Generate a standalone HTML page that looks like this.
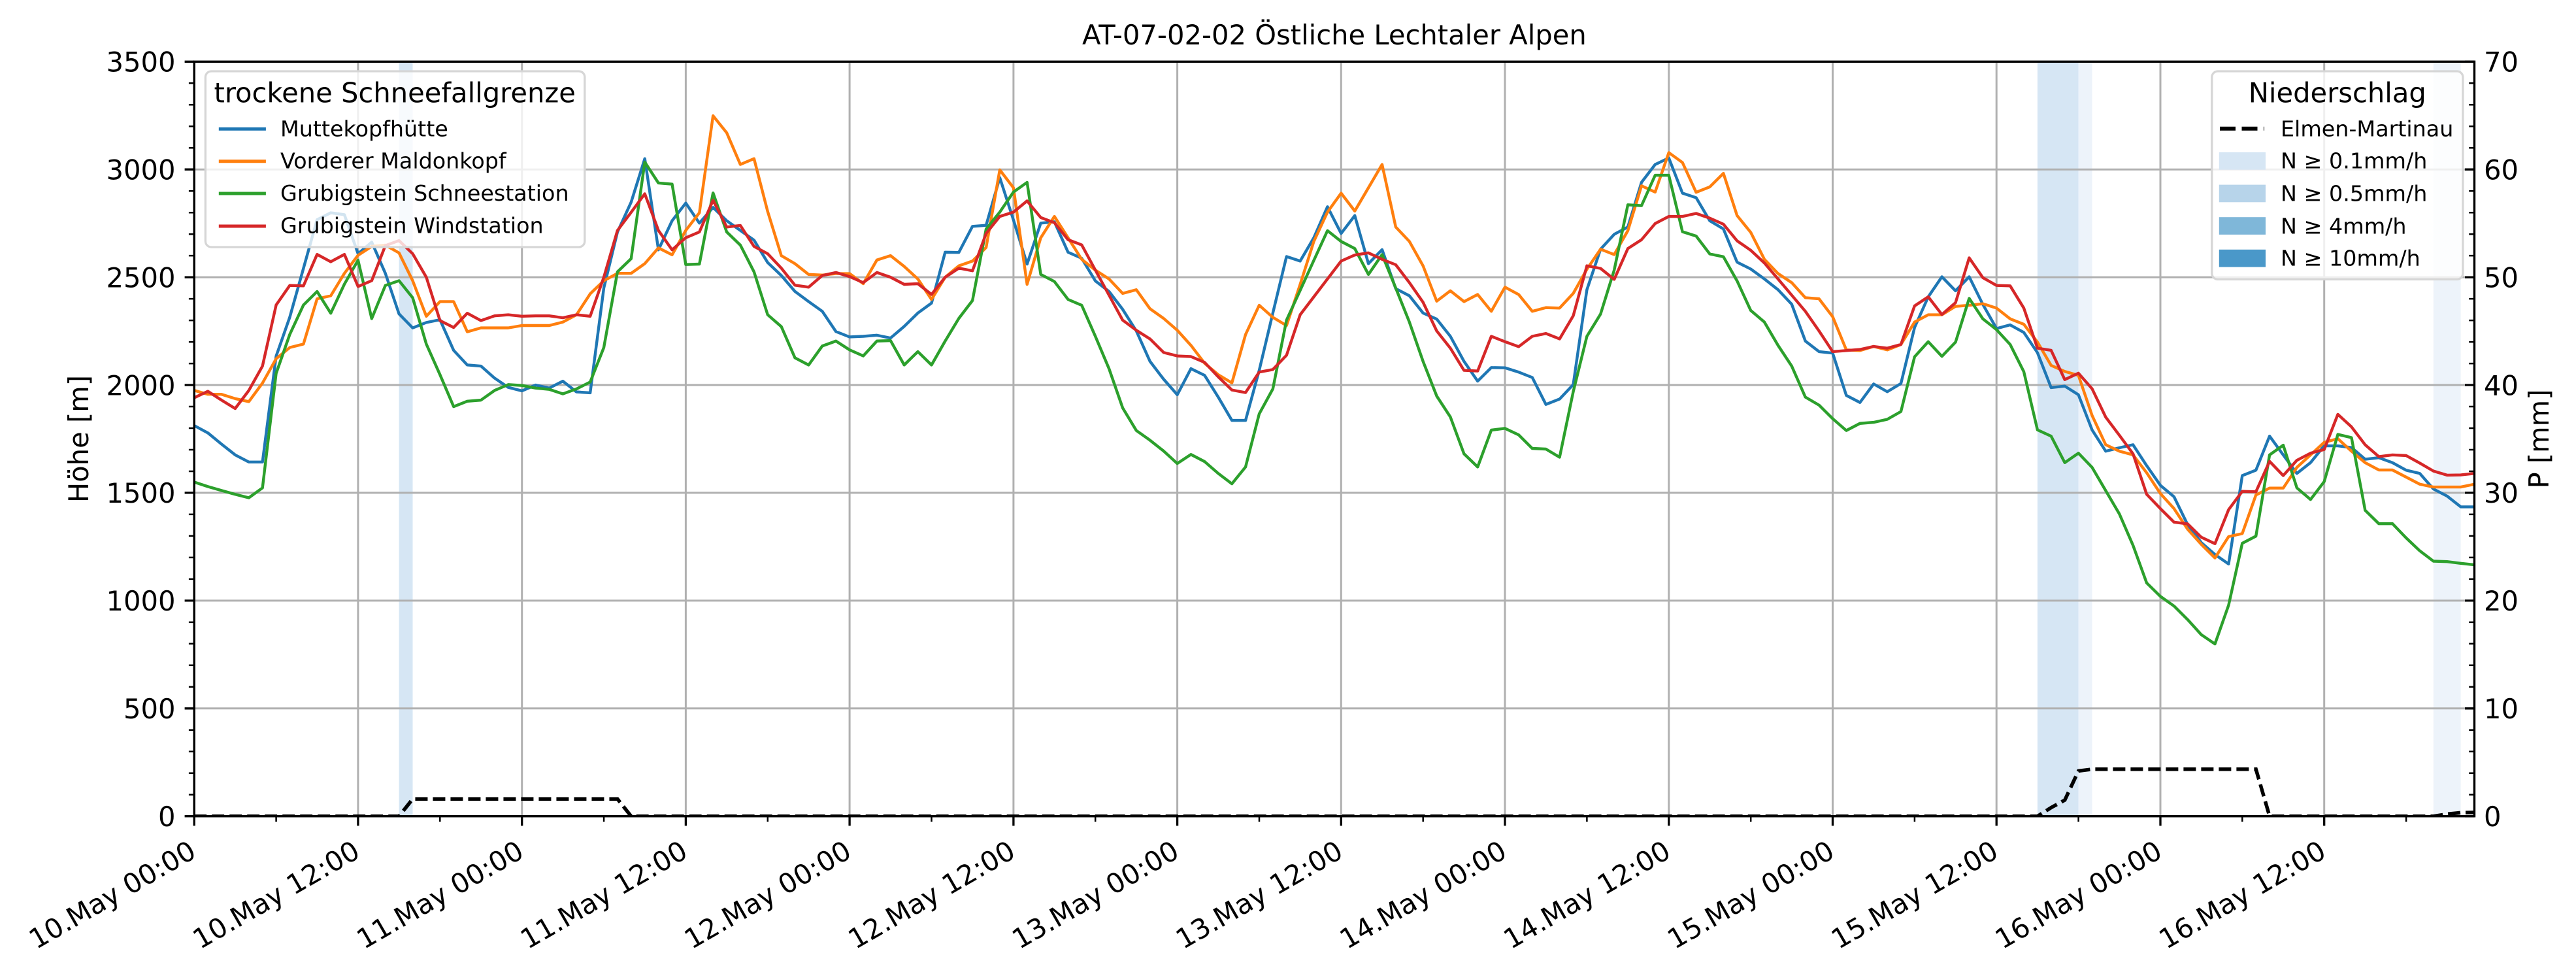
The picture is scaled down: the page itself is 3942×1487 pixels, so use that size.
<!DOCTYPE html>
<html>
<head>
<meta charset="utf-8">
<style>
html,body{margin:0;padding:0;background:#fff;}
svg{display:block;}
text{font-family:"DejaVu Sans","Liberation Sans",sans-serif;fill:#000;}
</style>
</head>
<body>
<svg xmlns="http://www.w3.org/2000/svg" width="3942" height="1487" viewBox="0 0 3942 1487">
<defs>
<clipPath id="pa"><rect x="297.2" y="94.3" width="3489.3" height="1154.4"/></clipPath>
</defs>
<rect x="0" y="0" width="3942" height="1487" fill="#fff"/>

<!-- precipitation bands -->
<g clip-path="url(#pa)">
<rect x="610.6" y="94.3" width="20.9" height="1154.4" fill="#d6e6f4"/>
<rect x="3117.9" y="94.3" width="62.7" height="1154.4" fill="#d6e6f4"/>
<rect x="3180.6" y="94.3" width="20.9" height="1154.4" fill="#edf3fa"/>
<rect x="3723.8" y="94.3" width="41.8" height="1154.4" fill="#edf3fa"/>
</g>

<!-- grid -->
<g stroke="#b0b0b0" stroke-width="3" fill="none">
<path d="M297.2 94.3V1248.7M547.9 94.3V1248.7M798.7 94.3V1248.7M1049.4 94.3V1248.7M1300.1 94.3V1248.7M1550.9 94.3V1248.7M1801.6 94.3V1248.7M2052.3 94.3V1248.7M2303.0 94.3V1248.7M2553.8 94.3V1248.7M2804.5 94.3V1248.7M3055.2 94.3V1248.7M3306.0 94.3V1248.7M3556.7 94.3V1248.7"/>
<path d="M297.2 1083.8H3786.5M297.2 918.9H3786.5M297.2 753.9H3786.5M297.2 589.0H3786.5M297.2 424.1H3786.5M297.2 259.2H3786.5"/>
</g>

<!-- series -->
<g clip-path="url(#pa)">
<g transform="translate(297.2 1248.7) scale(20.894 -0.32983)" fill="none" stroke-linejoin="round" stroke-linecap="butt">
<polyline vector-effect="non-scaling-stroke" stroke="#1f77b4" stroke-width="4.4" points="0,1812 1,1778 2,1726 3,1676 4,1643 5,1643 6,2134 7,2315 8,2541 9,2767 10,2799 11,2790 12,2609 13,2663 14,2518 15,2330 16,2265 17,2290 18,2303 19,2161 20,2093 21,2088 22,2032 23,1989 24,1973 25,2000 26,1986 27,2018 28,1968 29,1964 30,2450 31,2710 32,2848 33,3050 34,2627 35,2762 36,2844 37,2751 38,2824 39,2762 40,2717 41,2672 42,2568 43,2508 44,2434 45,2387 46,2342 47,2248 48,2223 49,2226 50,2231 51,2218 52,2272 53,2334 54,2380 55,2616 56,2615 57,2736 58,2741 59,2962 60,2766 61,2561 62,2751 63,2757 64,2616 65,2588 66,2483 67,2434 68,2351 69,2251 70,2110 71,2027 72,1955 73,2076 74,2045 75,1944 76,1836 77,1836 78,2068 79,2334 80,2596 81,2575 82,2683 83,2827 84,2703 85,2786 86,2563 87,2628 88,2447 89,2414 90,2334 91,2306 92,2226 93,2110 94,2018 95,2081 96,2080 97,2060 98,2035 99,1910 100,1935 101,2002 102,2442 103,2630 104,2699 105,2733 106,2940 107,3023 108,3053 109,2890 110,2869 111,2762 112,2724 113,2570 114,2538 115,2492 116,2442 117,2375 118,2204 119,2155 120,2148 121,1952 122,1919 123,2005 124,1969 125,2007 126,2267 127,2409 128,2502 129,2437 130,2502 131,2374 132,2262 133,2279 134,2244 135,2150 136,1988 137,1995 138,1955 139,1792 140,1693 141,1709 142,1723 143,1626 144,1535 145,1482 146,1352 147,1269 148,1214 149,1170 150,1580 151,1605 152,1763 153,1676 154,1590 155,1640 156,1718 157,1718 158,1710 159,1656 160,1663 161,1640 162,1605 163,1590 164,1518 165,1485 166,1435 167,1435"/>
<polyline vector-effect="non-scaling-stroke" stroke="#ff7f0e" stroke-width="4.4" points="0,1975 1,1957 2,1957 3,1937 4,1923 5,2009 6,2122 7,2174 8,2190 9,2400 10,2414 11,2518 12,2602 13,2643 14,2649 15,2613 16,2484 17,2319 18,2387 19,2387 20,2247 21,2265 22,2265 23,2265 24,2276 25,2276 26,2276 27,2292 28,2326 29,2423 30,2484 31,2518 32,2518 33,2563 34,2636 35,2604 36,2717 37,2799 38,3249 39,3170 40,3023 41,3050 42,2805 43,2600 44,2563 45,2513 46,2510 47,2517 48,2517 49,2470 50,2580 51,2600 52,2550 53,2492 54,2397 55,2500 56,2553 57,2575 58,2638 59,2998 60,2915 61,2467 62,2683 63,2782 64,2683 65,2583 66,2533 67,2492 68,2425 69,2442 70,2354 71,2309 72,2254 73,2184 74,2101 75,2048 76,2010 77,2234 78,2370 79,2314 80,2276 81,2467 82,2666 83,2802 84,2890 85,2807 86,2915 87,3023 88,2733 89,2666 90,2553 91,2389 92,2437 93,2387 94,2420 95,2342 96,2454 97,2420 98,2342 99,2359 100,2357 101,2425 102,2537 103,2630 104,2605 105,2716 106,2924 107,2895 108,3078 109,3032 110,2894 111,2919 112,2982 113,2786 114,2708 115,2583 116,2517 117,2475 118,2405 119,2400 120,2317 121,2163 122,2160 123,2179 124,2163 125,2188 126,2292 127,2326 128,2326 129,2365 130,2370 131,2377 132,2357 133,2307 134,2282 135,2199 136,2091 137,2063 138,2045 139,1859 140,1723 141,1693 142,1676 143,1593 144,1497 145,1427 146,1331 147,1261 148,1198 149,1297 150,1311 151,1490 152,1522 153,1522 154,1618 155,1676 156,1734 157,1751 158,1693 159,1640 160,1606 161,1606 162,1573 163,1540 164,1527 165,1527 166,1527 167,1540"/>
<polyline vector-effect="non-scaling-stroke" stroke="#2ca02c" stroke-width="4.4" points="0,1550 1,1529 2,1511 3,1493 4,1477 5,1523 6,2054 7,2235 8,2371 9,2434 10,2333 11,2468 12,2579 13,2308 14,2462 15,2484 16,2405 17,2190 18,2048 19,1900 20,1925 21,1930 22,1975 23,2002 24,1998 25,1986 26,1980 27,1959 28,1982 29,2014 30,2174 31,2525 32,2586 33,3034 34,2937 35,2932 36,2559 37,2561 38,2891 39,2710 40,2649 41,2525 42,2326 43,2271 44,2126 45,2093 46,2181 47,2204 48,2163 49,2135 50,2204 51,2206 52,2093 53,2155 54,2093 55,2204 56,2309 57,2392 58,2724 59,2802 60,2895 61,2940 62,2513 63,2480 64,2397 65,2370 66,2226 67,2076 68,1894 69,1789 70,1744 71,1694 72,1636 73,1678 74,1645 75,1590 76,1542 77,1620 78,1866 79,1982 80,2301 81,2439 82,2578 83,2716 84,2666 85,2633 86,2513 87,2605 88,2450 89,2292 90,2110 91,1949 92,1852 93,1681 94,1620 95,1791 96,1799 97,1769 98,1706 99,1703 100,1665 101,1969 102,2226 103,2329 104,2533 105,2836 106,2832 107,2973 108,2973 109,2711 110,2691 111,2608 112,2595 113,2483 114,2346 115,2292 116,2184 117,2088 118,1944 119,1907 120,1844 121,1789 122,1822 123,1827 124,1841 125,1877 126,2131 127,2201 128,2133 129,2199 130,2402 131,2307 132,2257 133,2188 134,2062 135,1792 136,1763 137,1640 138,1684 139,1618 140,1510 141,1402 142,1256 143,1082 144,1020 145,975 146,912 147,842 148,799 149,979 150,1266 151,1299 152,1676 153,1721 154,1523 155,1469 156,1552 157,1771 158,1756 159,1419 160,1357 161,1357 162,1291 163,1231 164,1183 165,1181 166,1173 167,1166"/>
<polyline vector-effect="non-scaling-stroke" stroke="#d62728" stroke-width="4.4" points="0,1941 1,1971 2,1930 3,1891 4,1975 5,2088 6,2371 7,2462 8,2460 9,2606 10,2572 11,2606 12,2457 13,2484 14,2647 15,2670 16,2609 17,2500 18,2299 19,2267 20,2333 21,2299 22,2321 23,2326 24,2319 25,2321 26,2321 27,2312 28,2326 29,2319 30,2500 31,2717 32,2801 33,2887 34,2717 35,2627 36,2683 37,2710 38,2857 39,2733 40,2740 41,2643 42,2609 43,2542 44,2463 45,2454 46,2508 47,2522 48,2503 49,2475 50,2522 51,2500 52,2467 53,2470 54,2420 55,2500 56,2542 57,2530 58,2703 59,2782 60,2802 61,2854 62,2777 63,2753 64,2674 65,2650 66,2533 67,2417 68,2301 69,2254 70,2214 71,2151 72,2135 73,2132 74,2105 75,2038 76,1977 77,1965 78,2060 79,2072 80,2138 81,2326 82,2409 83,2492 84,2575 85,2603 86,2613 87,2583 88,2558 89,2475 90,2384 91,2251 92,2171 93,2068 94,2065 95,2226 96,2201 97,2178 98,2226 99,2239 100,2214 101,2321 102,2553 103,2541 104,2490 105,2633 106,2674 107,2749 108,2782 109,2782 110,2796 111,2774 112,2746 113,2669 114,2625 115,2566 116,2492 117,2417 118,2342 119,2251 120,2155 121,2160 122,2165 123,2179 124,2171 125,2188 126,2367 127,2409 128,2327 129,2382 130,2590 131,2498 132,2462 133,2460 134,2357 135,2171 136,2161 137,2025 138,2055 139,1983 140,1851 141,1767 142,1681 143,1493 144,1427 145,1364 146,1356 147,1294 148,1264 149,1422 150,1507 151,1505 152,1646 153,1580 154,1651 155,1684 156,1701 157,1864 158,1806 159,1723 160,1668 161,1676 162,1673 163,1638 164,1601 165,1582 166,1583 167,1590"/>
</g>
<!-- precipitation -->
<polyline fill="none" stroke="#000" stroke-width="5.5" stroke-dasharray="19 8" points="297.2,1248.7 610.6,1248.7 631.5,1222.3 944.9,1222.3 965.8,1248.7 3117.9,1248.7 3138.8,1235.5 3159.7,1224.0 3180.6,1179.4 3201.5,1176.8 3452.2,1176.8 3473.1,1248.7 3723.8,1248.7 3744.7,1245.4 3765.6,1243.3 3786.5,1242.9"/>
</g>

<!-- spines -->
<rect x="297.2" y="94.3" width="3489.3" height="1154.4" fill="none" stroke="#000" stroke-width="3.4"/>

<!-- ticks -->
<g stroke="#000" fill="none">
<path stroke-width="3.3" d="M297.2 1248.7V1263.3M547.9 1248.7V1263.3M798.7 1248.7V1263.3M1049.4 1248.7V1263.3M1300.1 1248.7V1263.3M1550.9 1248.7V1263.3M1801.6 1248.7V1263.3M2052.3 1248.7V1263.3M2303.0 1248.7V1263.3M2553.8 1248.7V1263.3M2804.5 1248.7V1263.3M3055.2 1248.7V1263.3M3306.0 1248.7V1263.3M3556.7 1248.7V1263.3"/>
<path stroke-width="2.5" d="M422.6 1248.7V1257M673.3 1248.7V1257M924.1 1248.7V1257M1174.8 1248.7V1257M1425.5 1248.7V1257M1676.2 1248.7V1257M1927.0 1248.7V1257M2177.7 1248.7V1257M2428.4 1248.7V1257M2679.2 1248.7V1257M2929.9 1248.7V1257M3180.6 1248.7V1257M3431.3 1248.7V1257M3682.1 1248.7V1257"/>
<path stroke-width="3.3" d="M282.6 1248.7H297.2M282.6 1083.8H297.2M282.6 918.9H297.2M282.6 753.9H297.2M282.6 589.0H297.2M282.6 424.1H297.2M282.6 259.2H297.2M282.6 94.3H297.2"/>
<path stroke-width="3.3" d="M3772 1248.7H3786.5M3772 1083.8H3786.5M3772 918.9H3786.5M3772 753.9H3786.5M3772 589.0H3786.5M3772 424.1H3786.5M3772 259.2H3786.5M3772 94.3H3786.5"/>
<path stroke-width="2.5" d="M288.9 1215.7H297.2M288.9 1182.7H297.2M288.9 1149.8H297.2M288.9 1116.8H297.2M288.9 1050.8H297.2M288.9 1017.8H297.2M288.9 984.8H297.2M288.9 951.9H297.2M288.9 885.9H297.2M288.9 852.9H297.2M288.9 819.9H297.2M288.9 786.9H297.2M288.9 721.0H297.2M288.9 688.0H297.2M288.9 655.0H297.2M288.9 622.0H297.2M288.9 556.1H297.2M288.9 523.1H297.2M288.9 490.1H297.2M288.9 457.1H297.2M288.9 391.1H297.2M288.9 358.2H297.2M288.9 325.2H297.2M288.9 292.2H297.2M288.9 226.2H297.2M288.9 193.2H297.2M288.9 160.3H297.2M288.9 127.3H297.2"/>
<path stroke-width="2.5" d="M3778.2 1215.7H3786.5M3778.2 1182.7H3786.5M3778.2 1149.8H3786.5M3778.2 1116.8H3786.5M3778.2 1050.8H3786.5M3778.2 1017.8H3786.5M3778.2 984.8H3786.5M3778.2 951.9H3786.5M3778.2 885.9H3786.5M3778.2 852.9H3786.5M3778.2 819.9H3786.5M3778.2 786.9H3786.5M3778.2 721.0H3786.5M3778.2 688.0H3786.5M3778.2 655.0H3786.5M3778.2 622.0H3786.5M3778.2 556.1H3786.5M3778.2 523.1H3786.5M3778.2 490.1H3786.5M3778.2 457.1H3786.5M3778.2 391.1H3786.5M3778.2 358.2H3786.5M3778.2 325.2H3786.5M3778.2 292.2H3786.5M3778.2 226.2H3786.5M3778.2 193.2H3786.5M3778.2 160.3H3786.5M3778.2 127.3H3786.5"/>
</g>

<!-- left tick labels -->
<g font-size="41.67" text-anchor="end">
<text x="268.5" y="1264.0">0</text>
<text x="268.5" y="1099.1">500</text>
<text x="268.5" y="934.2">1000</text>
<text x="268.5" y="769.2">1500</text>
<text x="268.5" y="604.3">2000</text>
<text x="268.5" y="439.4">2500</text>
<text x="268.5" y="274.5">3000</text>
<text x="268.5" y="109.6">3500</text>
</g>
<!-- right tick labels -->
<g font-size="41.67" text-anchor="start">
<text x="3801" y="1264.0">0</text>
<text x="3801" y="1099.1">10</text>
<text x="3801" y="934.2">20</text>
<text x="3801" y="769.2">30</text>
<text x="3801" y="604.3">40</text>
<text x="3801" y="439.4">50</text>
<text x="3801" y="274.5">60</text>
<text x="3801" y="109.6">70</text>
</g>
<!-- x tick labels -->
<g font-size="41.67" text-anchor="end">
<text transform="translate(302.7 1310) rotate(-30)">10.May 00:00</text>
<text transform="translate(553.4 1310) rotate(-30)">10.May 12:00</text>
<text transform="translate(804.2 1310) rotate(-30)">11.May 00:00</text>
<text transform="translate(1054.9 1310) rotate(-30)">11.May 12:00</text>
<text transform="translate(1305.6 1310) rotate(-30)">12.May 00:00</text>
<text transform="translate(1556.4 1310) rotate(-30)">12.May 12:00</text>
<text transform="translate(1807.1 1310) rotate(-30)">13.May 00:00</text>
<text transform="translate(2057.8 1310) rotate(-30)">13.May 12:00</text>
<text transform="translate(2308.5 1310) rotate(-30)">14.May 00:00</text>
<text transform="translate(2559.3 1310) rotate(-30)">14.May 12:00</text>
<text transform="translate(2810.0 1310) rotate(-30)">15.May 00:00</text>
<text transform="translate(3060.7 1310) rotate(-30)">15.May 12:00</text>
<text transform="translate(3311.5 1310) rotate(-30)">16.May 00:00</text>
<text transform="translate(3562.2 1310) rotate(-30)">16.May 12:00</text>
</g>

<!-- axis labels & title -->
<text font-size="41.67" text-anchor="middle" transform="translate(135 671.5) rotate(-90)">Höhe [m]</text>
<text font-size="41.67" text-anchor="middle" transform="translate(3900 671.5) rotate(-90)">P [mm]</text>
<text font-size="41.67" text-anchor="middle" x="2041.9" y="68">AT-07-02-02 Östliche Lechtaler Alpen</text>

<!-- left legend -->
<rect x="314.4" y="109" width="580.4" height="269" rx="9" ry="9" fill="#fff" fill-opacity="0.8" stroke="#d6d6d6" stroke-width="3.3"/>
<text font-size="41.67" x="327.5" y="156.7">trockene Schneefallgrenze</text>
<g stroke-width="5" fill="none">
<path stroke="#1f77b4" d="M334.8 197.3H406.9"/>
<path stroke="#ff7f0e" d="M334.8 246.7H406.9"/>
<path stroke="#2ca02c" d="M334.8 296H406.9"/>
<path stroke="#d62728" d="M334.8 346H406.9"/>
</g>
<g font-size="33.33">
<text x="429" y="208.3">Muttekopfhütte</text>
<text x="429" y="257.7">Vorderer Maldonkopf</text>
<text x="429" y="307">Grubigstein Schneestation</text>
<text x="429" y="356.7">Grubigstein Windstation</text>
</g>

<!-- right legend -->
<rect x="3384.8" y="109" width="384.1" height="318.3" rx="9" ry="9" fill="#fff" fill-opacity="0.8" stroke="#d6d6d6" stroke-width="3.3"/>
<text font-size="41.67" text-anchor="middle" x="3576.8" y="156.7">Niederschlag</text>
<path d="M3397 196.7H3465" stroke="#000" stroke-width="6" stroke-dasharray="24 9.5" fill="none"/>
<rect x="3395.8" y="233" width="71.2" height="26.7" fill="#d6e6f4"/>
<rect x="3395.8" y="282.6" width="71.2" height="26.7" fill="#b7d4ea"/>
<rect x="3395.8" y="332.2" width="71.2" height="26.7" fill="#7fb7d9"/>
<rect x="3395.8" y="381.8" width="71.2" height="26.7" fill="#4a98c9"/>
<g font-size="33.33">
<text x="3490" y="208.3">Elmen-Martinau</text>
<text x="3490" y="257.7">N ≥ 0.1mm/h</text>
<text x="3490" y="307.3">N ≥ 0.5mm/h</text>
<text x="3490" y="357.3">N ≥ 4mm/h</text>
<text x="3490" y="406.7">N ≥ 10mm/h</text>
</g>
</svg>
</body>
</html>
